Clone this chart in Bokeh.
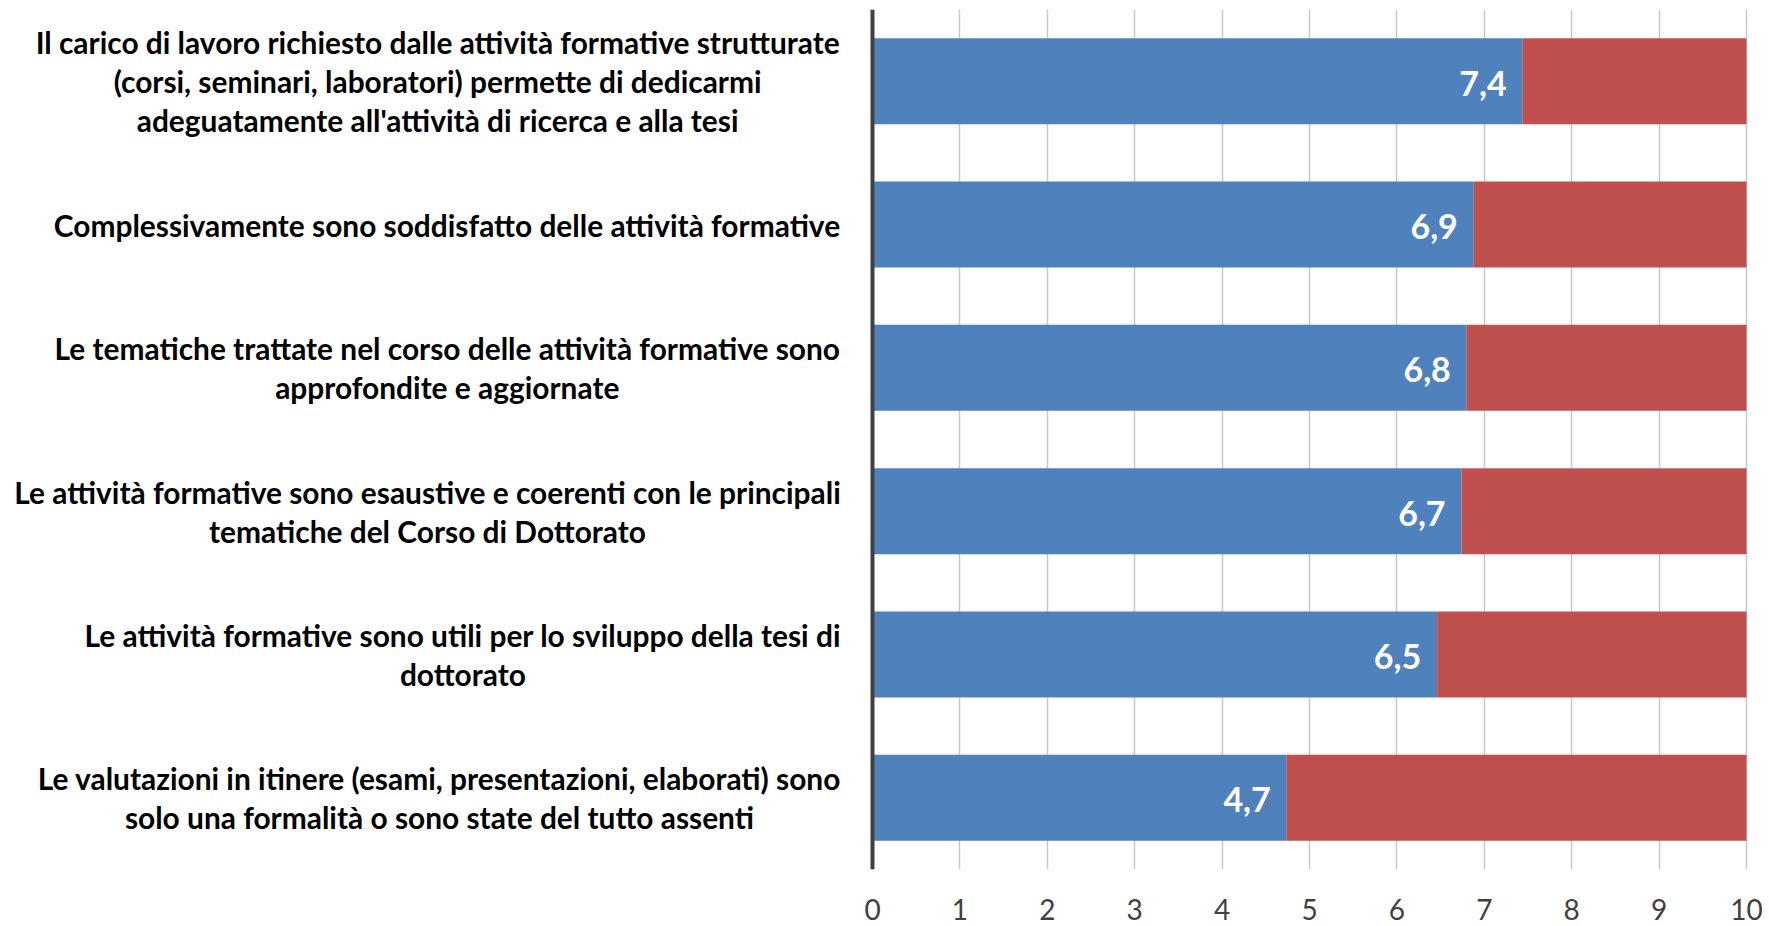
import glob
import os
import struct

from bokeh.core.properties import value
from bokeh.embed import file_html
from bokeh.models import ColumnDataSource, FactorRange, FixedTicker, Range1d, Span
from bokeh.plotting import figure
from bokeh.resources import INLINE

# ---------------- data ----------------
categories = [
    "Il carico di lavoro richiesto dalle attività formative strutturate\n(corsi, seminari, laboratori) permette di dedicarmi\nadeguatamente all'attività di ricerca e alla tesi",
    "Complessivamente sono soddisfatto delle attività formative",
    "Le tematiche trattate nel corso delle attività formative sono\napprofondite e aggiornate",
    "Le attività formative sono esaustive e coerenti con le principali\ntematiche del Corso di Dottorato",
    "Le attività formative sono utili per lo sviluppo della tesi di\ndottorato",
    "Le valutazioni in itinere (esami, presentazioni, elaborati) sono\nsolo una formalità o sono state del tutto assenti",
]
blue_values = [7.44, 6.88, 6.80, 6.74, 6.46, 4.74]
red_values = [2.56, 3.12, 3.20, 3.26, 3.54, 5.26]
x_ticks = [0, 1, 2, 3, 4, 5, 6, 7, 8, 9, 10]

# ---------------- layout constants (pixels) ----------------
FIG_W, FIG_H = 1769, 926
FIG_ORIGIN = 0                          # observed page offset of the figure
X0_PAGE, X10_PAGE = 872, 1746           # page x of value 0 and value 10
LABEL_RIGHT_PAGE = 842                  # right edge of category label blocks
LABEL_TARGET_W = 830                    # width of widest label line
LABEL_LINE_PX = 39.5
LINE_METRIC = 1.215                     # bokeh line box height per px of font size
FONT = "Lato"
BLUE, RED = "#4F81BD", "#C0504D"

px_per_unit = (X10_PAGE - X0_PAGE) / 10.0
x_start = (FIG_ORIGIN - X0_PAGE) / px_per_unit
x_end = (FIG_ORIGIN + FIG_W - X0_PAGE) / px_per_unit


# ---------------- font measurement (for centring the label lines) ----------------
def _parse_ttf(path):
    data = open(path, "rb").read()
    num_tables = struct.unpack(">H", data[4:6])[0]
    tables = {}
    for i in range(num_tables):
        off = 12 + 16 * i
        tag = data[off:off + 4].decode("latin1")
        _, offset, length = struct.unpack(">III", data[off + 4:off + 16])
        tables[tag] = offset
    head = tables["head"]
    upem = struct.unpack(">H", data[head + 18:head + 20])[0]
    hhea = tables["hhea"]
    nhm = struct.unpack(">H", data[hhea + 34:hhea + 36])[0]
    hmtx = tables["hmtx"]
    adv = [struct.unpack(">H", data[hmtx + 4 * i:hmtx + 4 * i + 2])[0] for i in range(nhm)]
    cmap = tables["cmap"]
    n = struct.unpack(">H", data[cmap + 2:cmap + 4])[0]
    sub = None
    for i in range(n):
        pid, eid, off = struct.unpack(">HHI", data[cmap + 4 + 8 * i:cmap + 12 + 8 * i])
        fmt = struct.unpack(">H", data[cmap + off:cmap + off + 2])[0]
        if fmt == 4 and pid in (0, 3):
            sub = cmap + off
            break
    if sub is None:
        raise ValueError("no cmap")
    segx2 = struct.unpack(">H", data[sub + 6:sub + 8])[0]
    segc = segx2 // 2
    ends = struct.unpack(">%dH" % segc, data[sub + 14:sub + 14 + segx2])
    so = sub + 16 + segx2
    starts = struct.unpack(">%dH" % segc, data[so:so + segx2])
    do = so + segx2
    deltas = struct.unpack(">%dh" % segc, data[do:do + segx2])
    ro = do + segx2
    ros = struct.unpack(">%dH" % segc, data[ro:ro + segx2])

    def glyph(ch):
        code = ord(ch)
        for i in range(segc):
            if ends[i] >= code:
                if starts[i] > code:
                    return 0
                if ros[i] == 0:
                    return (code + deltas[i]) & 0xFFFF
                addr = ro + 2 * i + ros[i] + 2 * (code - starts[i])
                g = struct.unpack(">H", data[addr:addr + 2])[0]
                return (g + deltas[i]) & 0xFFFF if g else 0
        return 0

    def width(s):
        return sum(adv[min(glyph(c), nhm - 1)] for c in s) / upem

    return width


def _em_width_func():
    pats = ["/usr/share/fonts/**/Lato-Bold.ttf", "/usr/local/share/fonts/**/Lato-Bold.ttf",
            os.path.expanduser("~/.fonts/**/Lato-Bold.ttf"),
            os.path.expanduser("~/.local/share/fonts/**/Lato-Bold.ttf")]
    for pat in pats:
        for f in glob.glob(pat, recursive=True):
            try:
                fn = _parse_ttf(f)
                fn("abc")
                return fn
            except Exception:
                pass
    return lambda s: 0.50 * len(s)


em_width = _em_width_func()
max_em = max(em_width(line) for c in categories for line in c.split("\n"))
label_size = min(31.0, LABEL_TARGET_W / max_em)

label_x = []
for c in categories:
    w_px = max(em_width(line) for line in c.split("\n")) * label_size
    centre_page = LABEL_RIGHT_PAGE - w_px / 2.0
    label_x.append((centre_page - X0_PAGE) / px_per_unit)

# ---------------- figure ----------------
p = figure(
    width=FIG_W, height=FIG_H,
    y_range=FactorRange(factors=categories[::-1]),
    x_range=Range1d(x_start, x_end),
    output_backend="svg", toolbar_location=None,
    y_axis_location=None,
    min_border_left=0, min_border_right=0, min_border_top=9, min_border_bottom=57,
)
p.outline_line_color = None
p.background_fill_color = "white"
p.border_fill_color = "white"

p.ygrid.visible = False
p.xgrid.ticker = FixedTicker(ticks=x_ticks)
p.xgrid.grid_line_color = "#c8c8c8"
p.xgrid.grid_line_width = 1.5

ax = p.xaxis[0]
ax.ticker = FixedTicker(ticks=x_ticks)
ax.bounds = (0, 10)
ax.axis_line_color = None
ax.major_tick_line_color = None
ax.minor_tick_line_color = None
ax.major_label_standoff = 23
ax.major_label_text_font = FONT
ax.major_label_text_font_size = "28px"
ax.major_label_text_color = "#404040"

src = ColumnDataSource(dict(
    cat=categories,
    blue=blue_values,
    red=red_values,
    total=[b + r for b, r in zip(blue_values, red_values)],
    lbl=[f"{v:.1f}".replace(".", ",") for v in blue_values],
    lx=label_x,
))

p.hbar(y="cat", left=0, right="blue", height=0.6, source=src,
       fill_color=BLUE, line_color=None)
p.hbar(y="cat", left="blue", right="total", height=0.6, source=src,
       fill_color=RED, line_color=None)

p.text(x="blue", y="cat", text="lbl", source=src, x_offset=-16, y_offset=2,
       text_align="right", text_baseline="middle", text_color="white",
       text_font=value(FONT), text_font_style="bold", text_font_size="34px")

p.text(x="lx", y="cat", text="cat", source=src,
       text_align="center", text_baseline="middle", text_color="black",
       text_font=value(FONT), text_font_style="bold",
       text_font_size=f"{label_size:.2f}px",
       text_line_height=LABEL_LINE_PX / (label_size * LINE_METRIC))

p.add_layout(Span(location=0, dimension="height", line_color="#404040", line_width=4))

open("out.html", "w").write(file_html(p, INLINE))
